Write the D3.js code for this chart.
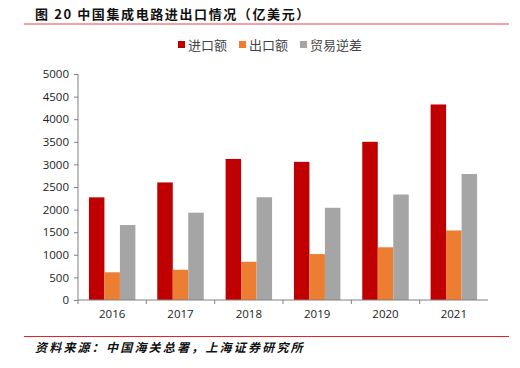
<!DOCTYPE html>
<meta charset="utf-8">
<style>
body { margin: 0; background: #fff; }
svg text { font-family: "Noto Sans CJK SC", sans-serif; }
.tick text { font-family: "Open Sans", "Liberation Sans", sans-serif; font-size: 11.5px; fill: #222; }
</style>
<svg width="520" height="368"></svg>
<script src="https://d3js.org/d3.v7.min.js"></script>
<script>
var years = ["2016", "2017", "2018", "2019", "2020", "2021"];
var seriesNames = ["进口额", "出口额", "贸易逆差"];
var imports = [2271, 2601, 3121, 3056, 3500, 4326];
var exportsV = [613, 669, 846, 1016, 1166, 1538];
var deficit = [1658, 1932, 2274, 2040, 2334, 2788];
var yTicks = [0, 500, 1000, 1500, 2000, 2500, 3000, 3500, 4000, 4500, 5000];
var colors = ["#C00000", "#ED7D31", "#A5A5A5"];

var svg = d3.select("svg");
var series = [imports, exportsV, deficit];

var x0 = d3.scaleBand().domain(years).range([78, 488]).paddingInner(0.32).paddingOuter(0.16);
var x1 = d3.scaleBand().domain(seriesNames).range([0, x0.bandwidth()]);
var y = d3.scaleLinear().domain([0, 5000]).range([300, 74]);

// title
svg.append("text").attr("x", 35).attr("y", 19)
    .style("font-size", "13px").style("font-weight", "bold").style("letter-spacing", "1.6px").attr("fill", "#111")
    .text("图 20 中国集成电路进出口情况（亿美元）");
svg.append("line").attr("x1", 24).attr("x2", 509).attr("y1", 24).attr("y2", 24)
    .attr("stroke", "#E8454A").attr("stroke-width", 1);

// bars
var g = svg.append("g");
years.forEach(function(yr, i) {
  seriesNames.forEach(function(s, j) {
    g.append("rect")
      .attr("x", x0(yr) + x1(s))
      .attr("width", x1.bandwidth())
      .attr("y", y(series[j][i]))
      .attr("height", y(0) - y(series[j][i]))
      .attr("fill", colors[j]);
  });
});

// axes
var yAxis = svg.append("g").attr("transform", "translate(78,0)")
    .call(d3.axisLeft(y).tickValues(yTicks).tickSize(4).tickPadding(5).tickFormat(d3.format("d")));
var xAxis = svg.append("g").attr("transform", "translate(0,300)")
    .call(d3.axisBottom(x0).tickSize(0).tickPadding(10));
xAxis.selectAll(".tick").append("line")
    .attr("x1", -x0.step() / 2).attr("x2", -x0.step() / 2).attr("y1", 0).attr("y2", 4);
xAxis.append("line").attr("x1", 488).attr("x2", 488).attr("y1", 0).attr("y2", 4);
svg.selectAll(".domain, .tick line").attr("stroke", "#808080");
xAxis.select(".domain").attr("d", "M78,0H488");
yAxis.select(".domain").attr("d", "M0,74V300");

// legend
var legX = [178, 239, 300];
seriesNames.forEach(function(s, j) {
  svg.append("rect").attr("x", legX[j]).attr("y", 41).attr("width", 7).attr("height", 7).attr("fill", colors[j]);
  svg.append("text").attr("x", legX[j] + 10).attr("y", 49.5)
    .style("font-size", "13px").attr("fill", "#444").text(s);
});

// source
svg.append("line").attr("x1", 24).attr("x2", 509).attr("y1", 336.5).attr("y2", 336.5)
    .attr("stroke", "#E8212A").attr("stroke-width", 1);
svg.append("text").attr("x", 35).attr("y", 352)
    .style("font-size", "12px").style("font-style", "italic").style("font-weight", "bold").style("letter-spacing", "2.2px").attr("fill", "#111")
    .text("资料来源：中国海关总署，上海证券研究所");
</script>
